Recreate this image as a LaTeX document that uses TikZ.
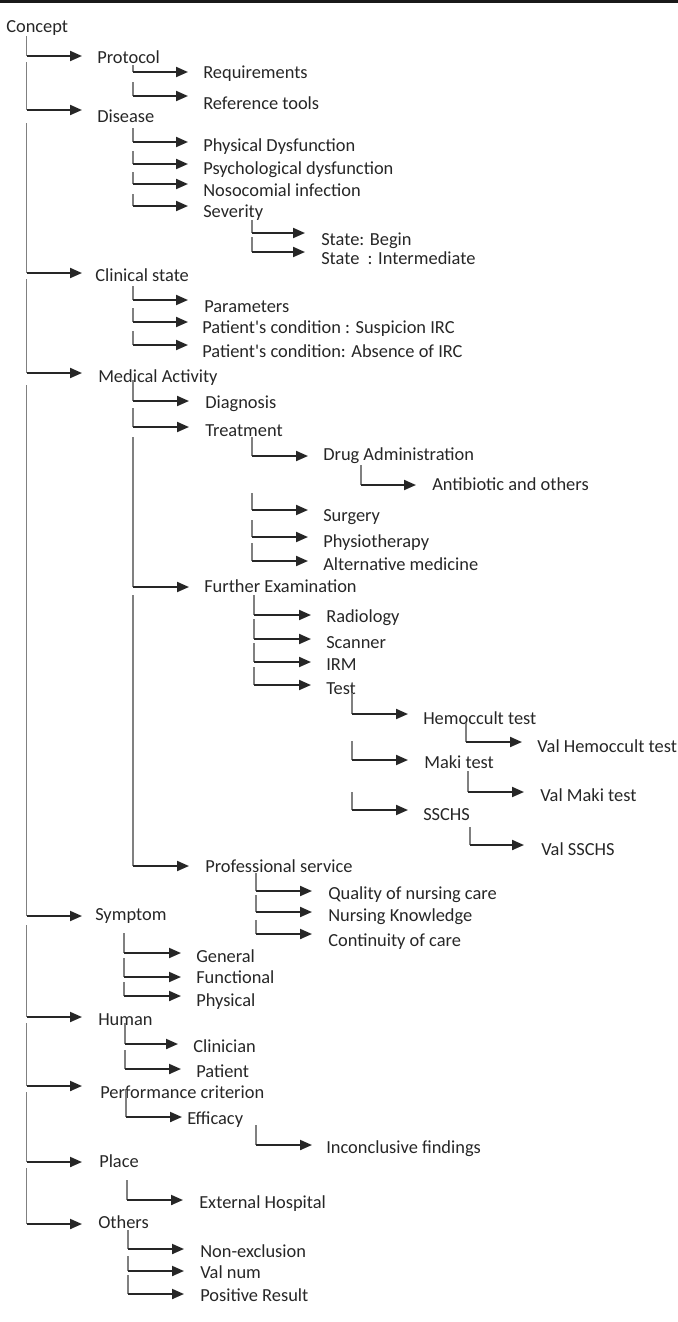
\documentclass[tikz,border=0pt]{standalone}
\usepackage{fontspec}
\setmainfont{Carlito}
\usetikzlibrary{arrows.meta}
\newcommand\tbranch[8]{%
  \coordinate (#5s) at (#1,#2);
  \coordinate (#5c) at (#1,#3);
  \coordinate (#5t) at (#4,#3);
  \node[lbl] (#5) at (#6,#7+5.5) {#8};
  \draw[vline] (#5s) -- (#5c);
  \draw[arr] (#5c) -- (#5t);
}
\begin{document}
\begin{tikzpicture}[x=0.75pt,y=-0.75pt,
  lbl/.style={anchor=base west,inner sep=0pt,font=\fontsize{13.8}{16}\selectfont,text=black!85},
  vline/.style={draw=black!50,line width=0.8pt},
  arr/.style={draw=black!85,line width=1.5pt,-{Triangle[length=9pt,width=7.5pt]}}]
\useasboundingbox (0,0) rectangle (678,1322);
\fill[black!90] (0,0) rectangle (678,2.7);
\node[lbl] (concept) at (6,27+5.5) {Concept};
% level 1
\tbranch{26.5}{36}{56}{82}{protocol}{97}{58}{Protocol}
\tbranch{26.5}{62}{110}{82}{disease}{97}{117}{Disease}
\tbranch{26.5}{123}{273}{82}{clinical}{95}{276}{Clinical state}
\tbranch{26.5}{279}{373}{82}{medical}{98}{377}{Medical Activity}
\tbranch{26.5}{385}{916}{82}{symptom}{95}{915}{Symptom}
\tbranch{26.5}{925}{1017}{82}{human}{98}{1020}{Human}
\tbranch{26.5}{1023}{1086}{82}{perf}{100}{1093}{Performance criterion}
\tbranch{26.5}{1092}{1162}{82}{place}{99}{1162}{Place}
\tbranch{26.5}{1168}{1224}{82}{others}{98}{1223}{Others}
% Protocol
\tbranch{133}{65}{72}{188}{req}{203}{73}{Requirements}
\tbranch{133}{82}{96}{188}{reftools}{203}{104}{Reference tools}
% Disease
\tbranch{133}{128}{142}{188}{physdys}{203}{146}{Physical Dysfunction}
\tbranch{133}{151}{164}{188}{psydys}{203}{169}{Psychological dysfunction}
\tbranch{133}{172}{184}{188}{noso}{203}{191}{Nosocomial infection}
\tbranch{133}{194}{206}{188}{severity}{203}{212}{Severity}
\tbranch{252}{220}{233}{305}{begin}{321}{240}{State: Begin}
\tbranch{252}{237}{252}{305}{interm}{321}{259}{State\ \ : Intermediate}
% Clinical state
\tbranch{133}{286}{300}{188}{params}{204}{307}{Parameters}
\tbranch{133}{308}{322}{188}{suspicion}{202}{328}{Patient\textquotesingle s condition : Suspicion IRC}
\tbranch{133}{331}{345}{188}{absence}{202}{352}{Patient\textquotesingle s condition: Absence of IRC}
% Medical Activity
\tbranch{133}{380}{401}{189}{diagnosis}{205}{403}{Diagnosis}
\tbranch{133}{408}{427}{189}{treatment}{205}{431}{Treatment}
\tbranch{133}{437}{587}{189}{further}{204}{587}{Further Examination}
\tbranch{133}{595}{866}{189}{profserv}{205}{867}{Professional service}
% Treatment
\tbranch{252}{437}{456}{308}{drug}{323}{455}{Drug Administration}
\tbranch{252}{493}{510}{308}{surgery}{323}{516}{Surgery}
\tbranch{252}{520}{537}{308}{physio}{323}{542}{Physiotherapy}
\tbranch{252}{543}{561}{308}{altmed}{323}{565}{Alternative medicine}
\tbranch{361}{465}{485}{416}{antibio}{432}{485}{Antibiotic and others}
% Further Examination
\tbranch{254}{595}{615}{311}{radio}{326}{617}{Radiology}
\tbranch{254}{619}{639}{311}{scanner}{326}{643}{Scanner}
\tbranch{254}{643}{662}{311}{irm}{326}{665}{IRM}
\tbranch{254}{667}{685}{311}{test}{326}{689}{Test}
\tbranch{352}{693}{714}{408}{hemo}{423}{719}{Hemoccult test}
\tbranch{352}{741}{760}{408}{maki}{424}{763}{Maki test}
\tbranch{352}{792}{810}{408}{sschs}{423}{815}{SSCHS}
\tbranch{466}{723}{742}{522}{valhemo}{537}{747}{Val Hemoccult test}
\tbranch{468}{771}{792}{524}{valmaki}{540}{796}{Val Maki test}
\tbranch{470}{827}{845}{524}{valsschs}{541}{850}{Val SSCHS}
% Professional service
\tbranch{256}{873}{891}{312}{quality}{328}{894}{Quality of nursing care}
\tbranch{256}{895}{912}{312}{knowledge}{328}{916}{Nursing Knowledge}
\tbranch{256}{920}{934}{312}{continuity}{328}{941}{Continuity of care}
% Symptom
\tbranch{124}{933}{953}{181}{general}{196}{957}{General}
\tbranch{124}{958}{977}{181}{functional}{196}{978}{Functional}
\tbranch{124}{982}{996}{181}{physical}{196}{1001}{Physical}
% Human
\tbranch{125}{1023}{1044}{178}{clinician}{193}{1047}{Clinician}
\tbranch{125}{1050}{1069}{181}{patient}{196}{1072}{Patient}
% Performance criterion
\tbranch{126}{1090}{1117}{182}{efficacy}{187}{1119}{Efficacy}
\tbranch{256}{1125}{1145}{312}{inconcl}{326}{1148}{Inconclusive findings}
% Place
\tbranch{127}{1180}{1200}{183}{exthosp}{199}{1203}{External Hospital}
% Others
\tbranch{128}{1230}{1249}{184}{nonexcl}{200}{1252}{Non-exclusion}
\tbranch{128}{1256}{1271}{184}{valnum}{200}{1273}{Val num}
\tbranch{128}{1275}{1294}{184}{positive}{200}{1296}{Positive Result}
\end{tikzpicture}
\end{document}
